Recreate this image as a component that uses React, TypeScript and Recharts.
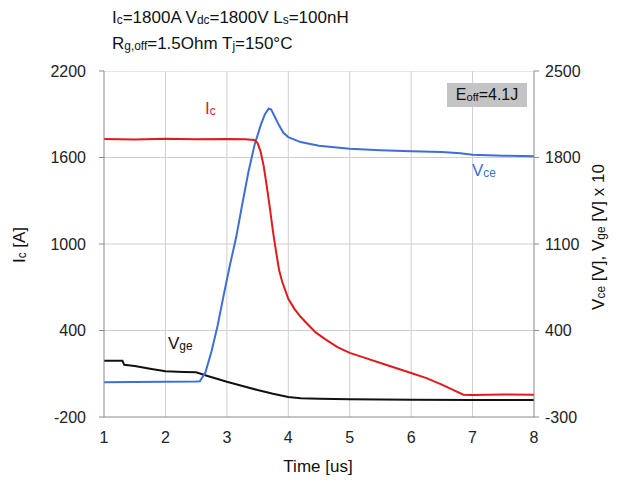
import { LineChart, Line, XAxis, YAxis } from 'recharts'

// time axis ticks [us] and value ticks
const timeTicks = [1, 2, 3, 4, 5, 6, 7, 8]
const icTicks = [-200, 400, 1000, 1600, 2200]
const vTicks = [-300, 400, 1100, 1800, 2500]

// collector current Ic [A]
const icTime = [1, 1.5, 2, 2.5, 3, 3.3, 3.45, 3.5, 3.55, 3.6, 3.65, 3.7, 3.75, 3.8, 3.85, 3.9, 4, 4.1, 4.2, 4.3, 4.45, 4.6, 4.8, 5, 5.25, 5.5, 5.75, 6, 6.25, 6.5, 6.7, 6.85, 7, 7.5, 8]
const icVal = [1728, 1724, 1730, 1726, 1729, 1727, 1722, 1700, 1640, 1540, 1400, 1250, 1090, 950, 820, 740, 620, 550, 495, 450, 385, 340, 285, 245, 210, 175, 140, 105, 70, 25, -15, -45, -48, -44, -45]

// collector-emitter voltage Vce [V]
const vceTime = [1, 2, 2.5, 2.56, 2.65, 2.75, 2.85, 2.95, 3.05, 3.15, 3.25, 3.35, 3.45, 3.55, 3.62, 3.68, 3.72, 3.78, 3.85, 3.92, 4, 4.2, 4.5, 5, 5.5, 6, 6.5, 6.8, 7, 7.5, 8]
const vceVal = [-18, -15, -12, -10, 60, 230, 440, 690, 930, 1150, 1420, 1680, 1900, 2060, 2150, 2195, 2190, 2130, 2060, 2000, 1965, 1925, 1895, 1870, 1858, 1850, 1845, 1835, 1822, 1815, 1810]

// gate voltage Vge [V] x 10
const vgeTime = [1, 1.3, 1.33, 1.5, 1.75, 2, 2.3, 2.5, 2.7, 3, 3.3, 3.5, 3.75, 4, 4.2, 4.5, 5, 6, 7, 8]
const vgeVal = [155, 155, 122, 112, 90, 70, 65, 62, 30, -15, -55, -82, -112, -138, -148, -152, -157, -160, -162, -163]

const icData = icTime.map((t, i) => ({ t, v: icVal[i] }))
const vceData = vceTime.map((t, i) => ({ t, v: vceVal[i] }))
const vgeData = vgeTime.map((t, i) => ({ t, v: vgeVal[i] }))

// light grid, built from the tick lists and drawn through the axis scales
const tMin = timeTicks[0]
const tMax = timeTicks[timeTicks.length - 1]
const iMin = icTicks[0]
const iMax = icTicks[icTicks.length - 1]
const vGrid = timeTicks.slice(1, -1).map(t => [{ t, v: iMin }, { t, v: iMax }])
const hGrid = icTicks.slice(1).map(v => [{ t: tMin, v }, { t: tMax, v }])

const FONT = '"Liberation Sans", Arial, sans-serif'
const tickStyle = { fill: '#222', fontSize: 16, fontFamily: FONT }
const GRID = '#cfcfcf'

function Sub({ children }: { children: React.ReactNode }) {
  return <span style={{ fontSize: '0.7em', verticalAlign: '-0.12em' }}>{children}</span>
}

export default function App() {
  return (
    <div style={{ position: 'absolute', left: 0, top: 0, width: 620, height: 484, fontFamily: FONT }}>
      <LineChart width={620} height={484} margin={{ top: 71, right: 0, bottom: 0, left: 0 }}>
        <XAxis
          dataKey="t"
          type="number"
          domain={[1, 8]}
          ticks={timeTicks}
          allowDataOverflow
          tick={tickStyle}
          stroke="#8a8a8a"
          tickSize={0}
          tickMargin={15}
          height={67}
        />
        <YAxis
          yAxisId="left"
          type="number"
          domain={[-200, 2200]}
          ticks={icTicks}
          allowDataOverflow
          tick={tickStyle}
          stroke="#8a8a8a"
          tickSize={5}
          tickMargin={13}
          width={104}
        />
        <YAxis
          yAxisId="right"
          orientation="right"
          type="number"
          domain={[-300, 2500]}
          ticks={vTicks}
          allowDataOverflow
          tick={{ ...tickStyle, textAnchor: 'start' }}
          stroke="#8a8a8a"
          tickSize={5}
          tickMargin={6}
          width={86}
        />
        {vGrid.map((d, i) => (
          <Line key={'gx' + i} yAxisId="left" data={d} dataKey="v" stroke={GRID} strokeWidth={1} dot={false} activeDot={false} isAnimationActive={false} />
        ))}
        {hGrid.map((d, i) => (
          <Line key={'gy' + i} yAxisId="left" data={d} dataKey="v" stroke={GRID} strokeWidth={1} dot={false} activeDot={false} isAnimationActive={false} />
        ))}
        <Line yAxisId="right" data={vgeData} dataKey="v" stroke="#111" strokeWidth={2} dot={false} isAnimationActive={false} />
        <Line yAxisId="right" data={vceData} dataKey="v" stroke="#3d6fd6" strokeWidth={2} dot={false} isAnimationActive={false} />
        <Line yAxisId="left" data={icData} dataKey="v" stroke="#e01b1b" strokeWidth={2} dot={false} isAnimationActive={false} />
      </LineChart>

      <div style={{ position: 'absolute', left: 112, top: 6, fontSize: 17, color: '#111', lineHeight: '23px', whiteSpace: 'nowrap' }}>
        <div>I<Sub>c</Sub>=1800A V<Sub>dc</Sub>=1800V L<Sub>s</Sub>=100nH</div>
        <div>R<Sub>g,off</Sub>=1.5Ohm T<Sub>j</Sub>=150°C</div>
      </div>

      <div style={{ position: 'absolute', left: 447, top: 83, width: 80, height: 24, background: '#c4c4c4', fontSize: 16, lineHeight: '24px', textAlign: 'center', color: '#111', whiteSpace: 'nowrap' }}>
        E<Sub>off</Sub>=4.1J
      </div>

      <div style={{ position: 'absolute', left: 205, top: 99, fontSize: 17, color: '#e01b1b' }}>I<Sub>c</Sub></div>
      <div style={{ position: 'absolute', left: 472, top: 161, fontSize: 17, color: '#3d6fd6' }}>V<Sub>ce</Sub></div>
      <div style={{ position: 'absolute', left: 168, top: 334, fontSize: 17, color: '#111' }}>V<Sub>ge</Sub></div>

      <div style={{ position: 'absolute', left: 0, top: 457, width: 636, textAlign: 'center', fontSize: 17, color: '#111' }}>Time [us]</div>

      <div style={{ position: 'absolute', left: 20, top: 245, fontSize: 17, color: '#111', whiteSpace: 'nowrap', transform: 'translate(-50%, -50%) rotate(-90deg)' }}>
        I<Sub>c</Sub> [A]
      </div>
      <div style={{ position: 'absolute', left: 599, top: 237, fontSize: 17, color: '#111', whiteSpace: 'nowrap', transform: 'translate(-50%, -50%) rotate(-90deg)' }}>
        V<Sub>ce</Sub> [V], V<Sub>ge</Sub> [V] x 10
      </div>
    </div>
  )
}
